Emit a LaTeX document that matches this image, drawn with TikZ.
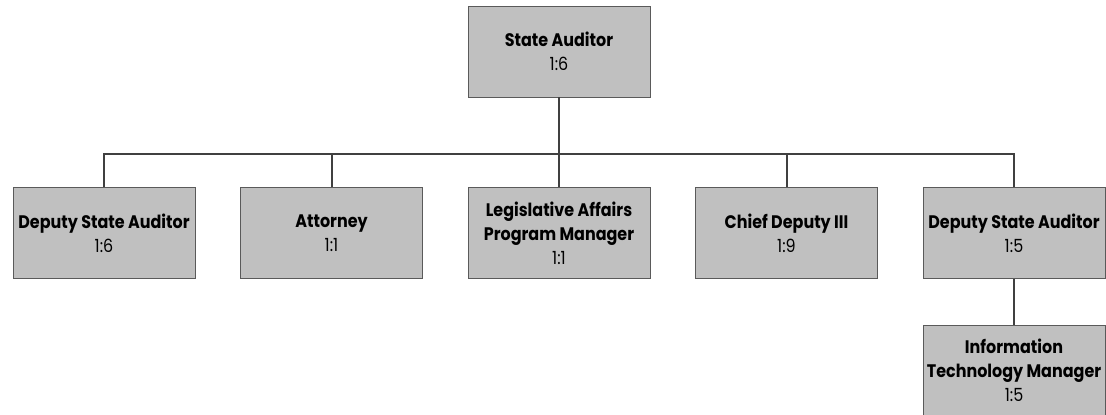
\documentclass[tikz,border=0pt]{standalone}
\usepackage{fontspec}
\setmainfont{Poppins}[FakeStretch=0.88]
\definecolor{boxfill}{HTML}{C0C0C0}
\definecolor{boxline}{HTML}{5A5A5A}
\definecolor{conn}{HTML}{404040}
\tikzset{
  orgbox/.style={draw=boxline, line width=0.6pt, fill=boxfill, minimum width=136.5pt, minimum height=68.25pt, inner sep=0pt, align=center, font=\fontsize{13.6pt}{18pt}\selectfont, text=black},
  link/.style={draw=conn, line width=1.5pt}
}
\newcommand{\ttl}[1]{\textbf{#1}}
\begin{document}
\begin{tikzpicture}[x=0.75pt,y=-0.75pt]
\useasboundingbox (0,0) rectangle (1106,414);
\node[orgbox] (sa) at (559,51.5) {\ttl{State Auditor}\\1:6};
\node[orgbox] (d1) at (104,233) {\ttl{Deputy State Auditor}\\1:6};
\node[orgbox] (att) at (331.5,233) {\ttl{Attorney}\\1:1};
\node[orgbox] (leg) at (559,233) {\ttl{Legislative Affairs}\\\ttl{Program Manager}\\1:1};
\node[orgbox] (cd) at (786.5,233) {\ttl{Chief Deputy III}\\1:9};
\node[orgbox] (d2) at (1014,233) {\ttl{Deputy State Auditor}\\1:5};
\node[orgbox] (it) at (1014,370.5) {\ttl{Information}\\\ttl{Technology Manager}\\1:5};
\coordinate (bar) at (559,154);
\draw[link] (sa.south) -- (leg.north);
\draw[link] (d1.north) |- (bar) -| (d2.north);
\draw[link] (att.north) -- (att.north |- bar);
\draw[link] (cd.north) -- (cd.north |- bar);
\draw[link] (d2.south) -- (it.north);
\end{tikzpicture}
\end{document}
